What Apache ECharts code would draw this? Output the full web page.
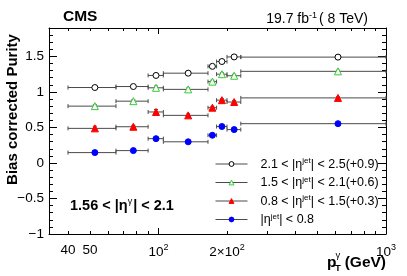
<!DOCTYPE html>
<html><head><meta charset="utf-8">
<script src="https://cdn.jsdelivr.net/npm/echarts@6/dist/echarts.min.js"></script>
<style>html,body{margin:0;padding:0;background:#fff}#c{width:407px;height:276px}</style>
</head><body><div id="c"></div>
<script>
// ---- data ----
const binLow    = [40, 65, 90, 105, 165, 180, 200, 230];
const binHigh   = [65, 90, 105, 165, 180, 200, 230, 1000];
const binCenter = [52.5, 77.5, 97.5, 135, 172.5, 190, 215, 615];

const seriesNames = ['2.1 < |ηjet| < 2.5(+0.9)', '1.5 < |ηjet| < 2.1(+0.6)', '0.8 < |ηjet| < 1.5(+0.3)', '|ηjet| < 0.8'];
const legendRich = ['{n|2.1 < |η}{s|jet}{n|| < 2.5(+0.9)}', '{n|1.5 < |η}{s|jet}{n|| < 2.1(+0.6)}', '{n|0.8 < |η}{s|jet}{n|| < 1.5(+0.3)}', '{n||η}{s|jet}{n|| < 0.8}'];

// plotted values (offsets already included as shown in the legend)
const purityEta21to25 = [1.062, 1.076, 1.232, 1.264, 1.360, 1.428, 1.493, 1.490];
const purityEta15to21 = [0.800, 0.870, 1.058, 1.036, 1.145, 1.250, 1.228, 1.290];
const purityEta08to15 = [0.487, 0.510, 0.718, 0.670, 0.778, 0.884, 0.858, 0.916];
const purityEta0to08  = [0.146, 0.174, 0.342, 0.298, 0.390, 0.513, 0.470, 0.553];

const errEta21to25 = [0.02, 0.02, 0.025, 0.02, 0.02, 0.02, 0.02, 0.015];
const errEta15to21 = [0.02, 0.02, 0.025, 0.02, 0.02, 0.02, 0.02, 0.015];
const errEta08to15 = [0.03, 0.02, 0.035, 0.02, 0.02, 0.02, 0.02, 0.015];
const errEta0to08  = [0.02, 0.02, 0.025, 0.02, 0.02, 0.02, 0.02, 0.015];

const xLabelValues = [40, 50, 100, 200, 1000];
const xShortTicks = [40, 50, 60, 70, 80, 90, 200, 300, 400, 500, 600, 700, 800, 900];
const xLongTicks = [100, 1000];
const yMajorTicks = [-1, -0.5, 0, 0.5, 1, 1.5];
const yMinorTicks = [-0.9, -0.8, -0.7, -0.6, -0.4, -0.3, -0.2, -0.1, 0.1, 0.2, 0.3, 0.4, 0.6, 0.7, 0.8, 0.9, 1.1, 1.2, 1.3, 1.4, 1.6, 1.7, 1.8];

const groups = [
  {vals: purityEta21to25, errs: errEta21to25, symbol: 'circle', size: 6, fill: '#ffffff', color: '#000000'},
  {vals: purityEta15to21, errs: errEta15to21, symbol: 'triangle', size: 7, fill: '#ffffff', color: '#33cc33'},
  {vals: purityEta08to15, errs: errEta08to15, symbol: 'triangle', size: 7, fill: '#ff0000', color: '#ff0000'},
  {vals: purityEta0to08,  errs: errEta0to08,  symbol: 'circle', size: 6, fill: '#0000ff', color: '#0000ff'}
];

const FONT = "'Liberation Sans', Arial, Helvetica, sans-serif";
const chart = echarts.init(document.getElementById('c'), null, {renderer: 'canvas'});

function renderErr(params, api) {
  const xl = api.value(0), xh = api.value(1), xc = api.value(2), y = api.value(3), ey = api.value(4);
  const pL = api.coord([xl, y]), pH = api.coord([xh, y]);
  const pT = api.coord([xc, y + ey]), pB = api.coord([xc, y - ey]);
  const c = 2;
  const st = {stroke: '#4a4a4a', lineWidth: 1, fill: null};
  return {type: 'group', children: [
    {type: 'line', shape: {x1: pL[0], y1: pL[1], x2: pH[0], y2: pH[1]}, style: st},
    {type: 'line', shape: {x1: pL[0], y1: pL[1] - c, x2: pL[0], y2: pL[1] + c}, style: st},
    {type: 'line', shape: {x1: pH[0], y1: pH[1] - c, x2: pH[0], y2: pH[1] + c}, style: st},
    {type: 'line', shape: {x1: pT[0], y1: pT[1], x2: pB[0], y2: pB[1]}, style: st},
    {type: 'line', shape: {x1: pT[0] - c, y1: pT[1], x2: pT[0] + c, y2: pT[1]}, style: st},
    {type: 'line', shape: {x1: pB[0] - c, y1: pB[1], x2: pB[0] + c, y2: pB[1]}, style: st}
  ]};
}

const series = [];
groups.forEach((g, gi) => {
  series.push({
    type: 'custom', name: 'err' + gi, renderItem: renderErr,
    data: binCenter.map((x, i) => [binLow[i], binHigh[i], x, g.vals[i], g.errs[i]]),
    encode: {x: [0, 1, 2], y: 3}, z: 2, silent: true
  });
});
groups.forEach((g, gi) => {
  series.push({
    type: 'line', name: seriesNames[gi],
    data: binCenter.map((x, i) => [x, g.vals[i]]),
    symbol: g.symbol, symbolSize: g.size,
    itemStyle: {color: g.fill, borderColor: g.color, borderWidth: 1},
    lineStyle: {opacity: 0, width: 0},
    z: 3, silent: true, emphasis: {disabled: true}
  });
});

const xBase = {type: 'log', logBase: 10, min: 33, max: 1000, splitLine: {show: false}, minorTick: {show: false}};
const yBase = {type: 'value', min: -1, max: 1.9, interval: 0.5, splitLine: {show: false}};
const lineBlack = {show: true, onZero: false, lineStyle: {color: '#000', width: 1}};
const lineNone = {show: false, onZero: false};

chart.setOption({
  animation: false,
  backgroundColor: '#fff',
  grid: {left: 49, right: 21, top: 28, bottom: 42, containLabel: false},
  xAxis: [
    Object.assign({}, xBase, {position: 'bottom', axisLine: lineBlack,
      axisTick: {show: true, inside: true, length: 3, customValues: xShortTicks, lineStyle: {color: '#000'}},
      axisLabel: {show: true, customValues: xLabelValues, margin: 9, color: '#000',
        formatter: function (v) {
          const r = Math.round(v);
          if (r === 100) return '{n|10}{s|2}';
          if (r === 200) return '{n|2×10}{s|2}';
          if (r === 1000) return '{n|10}{s|3}';
          return '{n|' + r + '}';
        },
        rich: {n: {fontSize: 13.5, fontFamily: FONT, color: '#000', verticalAlign: 'bottom'},
               s: {fontSize: 9, fontFamily: FONT, color: '#000', verticalAlign: 'bottom', padding: [0, 0, 7, 0]}}}}),
    Object.assign({}, xBase, {position: 'bottom', axisLine: lineNone,
      axisTick: {show: true, inside: true, length: 6, customValues: xLongTicks, lineStyle: {color: '#000'}},
      axisLabel: {show: false}}),
    Object.assign({}, xBase, {position: 'top', axisLine: lineBlack,
      axisTick: {show: true, inside: true, length: 3, customValues: xShortTicks, lineStyle: {color: '#000'}},
      axisLabel: {show: false}}),
    Object.assign({}, xBase, {position: 'top', axisLine: lineNone,
      axisTick: {show: true, inside: true, length: 6, customValues: xLongTicks, lineStyle: {color: '#000'}},
      axisLabel: {show: false}})
  ],
  yAxis: [
    Object.assign({}, yBase, {position: 'left', axisLine: lineBlack,
      axisTick: {show: true, inside: true, length: 8, customValues: yMajorTicks, lineStyle: {color: '#000'}},
      axisLabel: {show: true, customValues: yMajorTicks, margin: 5, color: '#000', fontSize: 13.5, fontFamily: FONT,
        formatter: v => String(Math.round(v * 10) / 10).replace('-', '\u2212')}}),
    Object.assign({}, yBase, {position: 'left', axisLine: lineNone,
      axisTick: {show: true, inside: true, length: 4, customValues: yMinorTicks, lineStyle: {color: '#000'}},
      axisLabel: {show: false}}),
    Object.assign({}, yBase, {position: 'right', axisLine: lineBlack,
      axisTick: {show: true, inside: true, length: 8, customValues: yMajorTicks, lineStyle: {color: '#000'}},
      axisLabel: {show: false}}),
    Object.assign({}, yBase, {position: 'right', axisLine: lineNone,
      axisTick: {show: true, inside: true, length: 4, customValues: yMinorTicks, lineStyle: {color: '#000'}},
      axisLabel: {show: false}})
  ],
  legend: {
    data: seriesNames, orient: 'vertical', left: 210, top: 152,
    itemWidth: 32, itemHeight: 6, itemGap: 4.5,
    selectedMode: false,
    lineStyle: {color: '#4a4a4a', width: 1, opacity: 1},
    itemStyle: {borderWidth: 1},
    formatter: name => legendRich[seriesNames.indexOf(name)],
    textStyle: {padding: [0, 0, 0, 8],
      rich: {n: {fontSize: 12.5, fontFamily: FONT, color: '#000', verticalAlign: 'bottom'},
             s: {fontSize: 8, fontFamily: FONT, color: '#000', verticalAlign: 'bottom', padding: [0, 0, 6, 0]}}}
  },
  graphic: [
    {type: 'text', left: 63, top: 9, style: {text: 'CMS', font: 'bold 15.5px ' + FONT, fill: '#000'}},
    {type: 'text', x: 368, y: 26, style: {text: '{n|19.7 fb}{s|-1}{n|( 8 TeV)}', align: 'right', verticalAlign: 'bottom',
      rich: {n: {fontSize: 14, fontFamily: FONT, fill: '#000', verticalAlign: 'bottom'},
             s: {fontSize: 9, fontFamily: FONT, fill: '#000', verticalAlign: 'bottom', padding: [0, 2, 6, 0]}}}},
    {type: 'text', x: 70, y: 213, style: {text: '{b|1.56 < |η}{s|γ}{b|| < 2.1}', align: 'left', verticalAlign: 'bottom',
      rich: {b: {fontSize: 14.5, fontWeight: 'bold', fontFamily: FONT, fill: '#000', verticalAlign: 'bottom'},
             s: {fontSize: 9, fontFamily: FONT, fill: '#000', verticalAlign: 'bottom', padding: [0, 1, 7, 0]}}}},
    {type: 'text', x: 13, y: 109.5, rotation: Math.PI / 2,
      style: {text: 'Bias corrected Purity', font: 'bold 15px ' + FONT, fill: '#000', align: 'center', verticalAlign: 'middle'}},
    {type: 'text', x: 327, y: 262.5, style: {text: 'p', font: 'bold 15.5px ' + FONT, fill: '#000', align: 'left', verticalAlign: 'middle'}},
    {type: 'text', x: 335.5, y: 255.5, style: {text: 'γ', font: '9.5px ' + FONT, fill: '#000', align: 'left', verticalAlign: 'middle'}},
    {type: 'text', x: 335, y: 268, style: {text: 'T', font: 'bold 9.5px ' + FONT, fill: '#000', align: 'left', verticalAlign: 'middle'}},
    {type: 'text', x: 386, y: 262.5, style: {text: '(GeV)', font: 'bold 15.5px ' + FONT, fill: '#000', align: 'right', verticalAlign: 'middle'}}
  ],
  series: series
});
</script>
</body></html>
